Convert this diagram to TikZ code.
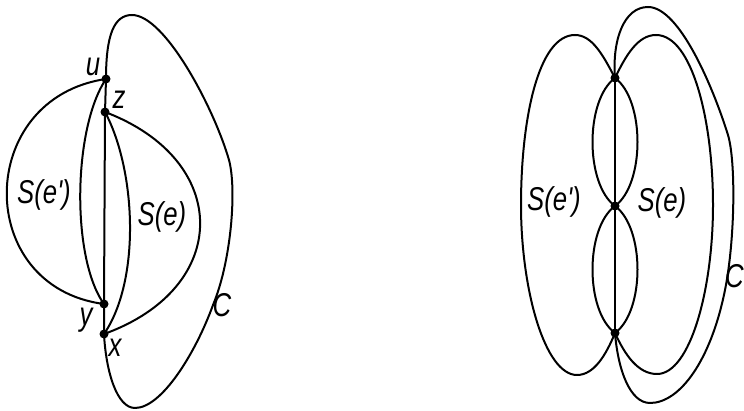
\documentclass[tikz,border=0pt]{standalone}
\usepackage{fontspec}
\setmainfont{Liberation Sans}
\newfontfamily\lblfont[FakeStretch=0.78]{Liberation Sans}
\begin{document}
\begin{tikzpicture}[x=1pt,y=-1pt,
  edge/.style={line width=2pt,line join=round},
  vtx/.style={circle,fill=black,inner sep=0pt,minimum size=9pt},
  lbl/.style={font=\lblfont\fontsize{33}{33}\selectfont\itshape,inner sep=0pt}]
\useasboundingbox (0,0) rectangle (744,411);
% ---------- left figure ----------
\node[vtx] (u) at (106,79) {};
\node[vtx] (z) at (105,112) {};
\node[vtx] (y) at (104,304) {};
\node[vtx] (x) at (104,334) {};
% C
\draw[edge] (u.center) .. controls (106,35) and (114,15) .. (132,15)
  .. controls (165,15) and (214,108) .. (229,160)
  .. controls (237,190) and (231,262) .. (213,305)
  .. controls (196,352) and (162,408) .. (135,408)
  .. controls (117,408) and (106,372) .. (x.center);
\draw[edge] (x.center) -- (y.center) -- (z.center) -- (u.center);
% S(e')
\draw[edge] (u.center) .. controls (-25,98) and (-27,287) .. (y.center);
\draw[edge] (u.center) .. controls (73,128) and (71,258) .. (y.center);
% S(e)
\draw[edge] (z.center) .. controls (232,160) and (232,288) .. (x.center);
\draw[edge] (z.center) .. controls (136,170) and (141,280) .. (x.center);
\node[lbl] (lu) at (93,67) {u};
\node[lbl] (lz) at (119,100) {z};
\node[lbl] (ly) at (86,320) {y};
\node[lbl] (lx) at (115,348) {x};
\node[lbl] (lse1) at (44,195) {S(e')};
\node[lbl] (lse) at (162,217) {S(e)};
\node[lbl] (lc) at (222,305) {C};
% ---------- right figure ----------
\node[vtx] (t) at (615,78) {};
\node[vtx] (m) at (615,206) {};
\node[vtx] (b) at (615,333) {};
\draw[edge] (t.center) -- (m.center) -- (b.center);
% small lenses
\draw[edge] (t.center) .. controls (585,100) and (585,184) .. (m.center)
  .. controls (645,184) and (645,100) .. (t.center);
\draw[edge] (m.center) .. controls (585,228) and (585,311) .. (b.center)
  .. controls (645,311) and (645,228) .. (m.center);
% S(e')
\draw[edge] (t.center) .. controls (603,55) and (592,35) .. (575,35)
  .. controls (538,35) and (521,120) .. (521,205)
  .. controls (521,290) and (545,375) .. (577,375)
  .. controls (594,375) and (606,355) .. (b.center);
% S(e)
\draw[edge] (t.center) .. controls (626,55) and (638,35) .. (656,35)
  .. controls (692,35) and (713,120) .. (713,205)
  .. controls (713,290) and (690,374) .. (657,374)
  .. controls (638,374) and (625,355) .. (b.center);
% C
\draw[edge] (t.center) .. controls (612,40) and (624,7) .. (648,7)
  .. controls (680,7) and (714,90) .. (728,135)
  .. controls (736,162) and (735,240) .. (725,290)
  .. controls (711,360) and (680,403) .. (650,403)
  .. controls (630,403) and (618,370) .. (b.center);
\node[lbl] (rse1) at (554,202) {S(e')};
\node[lbl] (rse) at (662,203) {S(e)};
\node[lbl,anchor=east] (rc) at (744,276) {C};
\end{tikzpicture}
\end{document}
